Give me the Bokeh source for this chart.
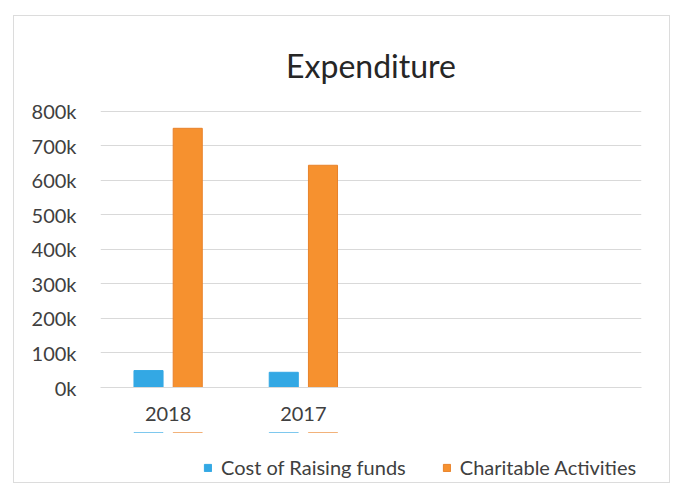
from bokeh.plotting import figure
from bokeh.layouts import column
from bokeh.models import ColumnDataSource, FactorRange, Range1d, FixedTicker, CustomJSTickFormatter, Legend, LegendItem
from bokeh.transform import dodge
from bokeh.embed import file_html
from bokeh.resources import INLINE

categories = ["2018", "2017", " ", "  "]
cost_raising = [49000, 44000, 0, 0]
charitable = [750000, 643000, 0, 0]
y_ticks = [0, 100000, 200000, 300000, 400000, 500000, 600000, 700000, 800000]
series_names = ["Cost of Raising funds", "Charitable Activities"]
colors = ["#33a8e4", "#f6912f"]

src_a = ColumnDataSource(dict(x=categories[:2], y=cost_raising[:2]))
src_b = ColumnDataSource(dict(x=categories[:2], y=charitable[:2]))

p = figure(frame_width=541, frame_height=277, x_range=FactorRange(*categories),
           y_range=Range1d(0, 801500), output_backend="svg", toolbar_location=None,
           min_border_left=86, min_border_right=28, min_border_top=94, min_border_bottom=45,
           border_fill_color="white")

p.title.text = "Expenditure"
p.title.align = "center"
p.title.text_font = "Lato"
p.title.text_font_size = "32px"
p.title.text_font_style = "normal"
p.title.text_color = "#262626"
p.title.standoff = 52

ra = p.vbar(x=dodge("x", -0.145, range=p.x_range), top="y", width=0.215, source=src_a,
            fill_color=colors[0], line_color=colors[0])
rb = p.vbar(x=dodge("x", 0.145, range=p.x_range), top="y", width=0.215, source=src_b,
            fill_color=colors[1], line_color="#e8822a")

p.outline_line_color = None
p.xgrid.grid_line_color = None
p.ygrid.grid_line_color = "#d9d9d9"
p.ygrid.grid_line_width = 1

p.yaxis.ticker = FixedTicker(ticks=y_ticks)
p.yaxis.formatter = CustomJSTickFormatter(code="return (tick/1000).toFixed(0) + 'k';")
for ax in (p.xaxis[0], p.yaxis[0]):
    ax.axis_line_color = None
    ax.major_tick_line_color = None
    ax.minor_tick_line_color = None
    ax.major_label_text_font = "Lato"
    ax.major_label_text_font_size = "20px"
    ax.major_label_text_color = "#404040"
p.xaxis.axis_line_color = "#d9d9d9"
p.yaxis.major_label_standoff = 18
p.xaxis.major_label_standoff = 7

# legend strip: its own small figure so the legend sits below the axis labels
lg = figure(width=655, height=50, x_range=FactorRange(*categories), y_range=Range1d(-2, -1),
            output_backend="svg", toolbar_location=None,
            x_axis_location=None, y_axis_location=None,
            min_border_left=0, min_border_right=0, min_border_top=0, min_border_bottom=0,
            border_fill_color="white")
lg.outline_line_color = None
lg.grid.visible = False
la = lg.vbar(x=dodge("x", -0.145, range=lg.x_range), top="y", width=0.215, source=src_a,
             fill_color=colors[0], line_color=colors[0])
lb = lg.vbar(x=dodge("x", 0.145, range=lg.x_range), top="y", width=0.215, source=src_b,
             fill_color=colors[1], line_color="#e8822a")

legend = Legend(items=[LegendItem(label=series_names[0], renderers=[la]),
                       LegendItem(label=series_names[1], renderers=[lb])],
                orientation="horizontal", location=(103, 3),
                label_text_font="Lato", label_text_font_size="20px", label_text_color="#404040",
                glyph_width=9, glyph_height=9, spacing=36, label_standoff=9,
                border_line_color=None, background_fill_alpha=0, margin=0, padding=0)
lg.add_layout(legend, "center")

layout = column(p, lg, spacing=0,
                styles={"margin-left": "13px", "margin-top": "15px", "border": "1px solid #dcdcdc"})

open("out.html", "w").write(file_html(layout, INLINE))
